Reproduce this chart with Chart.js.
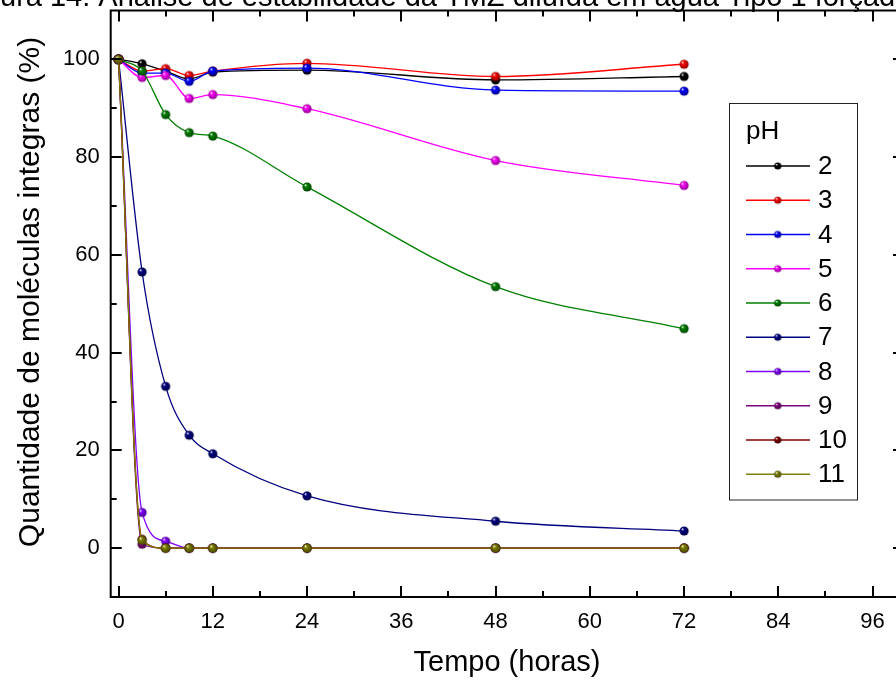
<!DOCTYPE html>
<html>
<head>
<meta charset="utf-8">
<script src="https://cdn.jsdelivr.net/npm/chart.js@4.4.1/dist/chart.umd.min.js"></script>
<style>
  html, body { margin: 0; padding: 0; background: #fff; overflow: hidden; }
  #wrap { width: 912px; height: 682px; }
</style>
</head>
<body>
<div id="wrap"><canvas id="grafico"></canvas></div>
<script>
// tempos de coleta (h) e % de moléculas íntegras por pH
var horas = [0, 3, 6, 9, 12, 24, 48, 72];
var ph2  = [100, 99.1, 97.6, 96.0, 97.4, 97.8, 95.8, 96.5];
var ph3  = [100, 97.6, 98.1, 96.7, 97.6, 99.2, 96.5, 99.0];
var ph4  = [100, 97.2, 97.2, 95.5, 97.6, 98.2, 93.7, 93.5];
var ph5  = [100, 96.3, 96.7, 92.0, 92.8, 89.9, 79.3, 74.2];
var ph6  = [100, 97.6, 88.7, 85.0, 84.3, 73.9, 53.5, 44.9];
var ph7  = [100, 56.5, 33.1, 23.1, 19.3, 10.7, 5.5, 3.5];
var ph8  = [100, 7.3, 1.4, 0, 0, 0, 0, 0];
var ph9  = [100, 0.8, 0, 0, 0, 0, 0, 0];
var ph10 = [100, 1.8, 0, 0, 0, 0, 0, 0];
var ph11 = [100, 1.6, 0, 0, 0, 0, 0, 0];

var rotulos = ['2', '3', '4', '5', '6', '7', '8', '9', '10', '11'];
var series = [ph2, ph3, ph4, ph5, ph6, ph7, ph8, ph9, ph10, ph11];
var cores = ['#000000', '#ff0000', '#0000ff', '#ff00ff', '#008000',
             '#000080', '#8000ff', '#800080', '#800000', '#808000'];

var xTicks = [0, 12, 24, 36, 48, 60, 72, 84, 96];
var xMenores = [6, 18, 30, 42, 54, 66, 78, 90];
var yTicks = [0, 20, 40, 60, 80, 100];
var yMenores = [10, 30, 50, 70, 90];

var fonte = '"Liberation Sans", Arial, sans-serif';

function escurece(hex, f) {
  var n = parseInt(hex.slice(1), 16);
  var r = Math.round(((n >> 16) & 255) * f);
  var g = Math.round(((n >> 8) & 255) * f);
  var b = Math.round((n & 255) * f);
  return 'rgb(' + r + ',' + g + ',' + b + ')';
}

// bolinha sombreada usada como marcador
function bola(cor, r) {
  var c = document.createElement('canvas');
  var d = Math.ceil(r * 2) + 2;
  c.width = d; c.height = d;
  var g = c.getContext('2d');
  var m = d / 2;
  var grad = g.createRadialGradient(m - r * 0.4, m - r * 0.45, r * 0.05, m, m, r);
  grad.addColorStop(0, '#ffffff');
  grad.addColorStop(0.3, cor);
  grad.addColorStop(1, escurece(cor, 0.55));
  g.fillStyle = grad;
  g.beginPath();
  g.arc(m, m, r, 0, Math.PI * 2);
  g.fill();
  return c;
}

var datasets = [];
for (var i = 0; i < series.length; i++) {
  var pts = [];
  for (var j = 0; j < horas.length; j++) {
    pts.push({ x: horas[j], y: series[i][j] });
  }
  datasets.push({
    label: rotulos[i],
    data: pts,
    borderColor: cores[i],
    backgroundColor: cores[i],
    borderWidth: 1.3,
    cubicInterpolationMode: 'monotone',
    pointStyle: bola(cores[i], 4.6),
    pointRadius: 4.6,
    order: series.length - i,
    marcadorLegenda: bola(cores[i], 3.6)
  });
}

var molduraOrigin = {
  id: 'molduraOrigin',
  afterDraw: function(chart) {
    var ctx = chart.ctx;
    var a = chart.chartArea;
    var sx = chart.scales.x, sy = chart.scales.y;
    ctx.save();
    ctx.strokeStyle = '#000';
    ctx.lineWidth = 2;
    ctx.strokeRect(a.left, a.top, a.right - a.left, a.bottom - a.top);

    function tickX(v, len) {
      var px = Math.round(sx.getPixelForValue(v));
      ctx.beginPath();
      ctx.moveTo(px, a.bottom); ctx.lineTo(px, a.bottom - len);
      ctx.moveTo(px, a.top); ctx.lineTo(px, a.top + len);
      ctx.stroke();
    }
    function tickY(v, len) {
      var py = Math.round(sy.getPixelForValue(v));
      ctx.beginPath();
      ctx.moveTo(a.left, py); ctx.lineTo(a.left + len, py);
      ctx.moveTo(a.right, py); ctx.lineTo(a.right - len, py);
      ctx.stroke();
    }
    xTicks.forEach(function(v) { tickX(v, 11); });
    xMenores.forEach(function(v) { tickX(v, 6); });
    yTicks.forEach(function(v) { tickY(v, 11); });
    yMenores.forEach(function(v) { tickY(v, 6); });

    // títulos
    ctx.fillStyle = '#000';
    ctx.font = '29px ' + fonte;
    ctx.textAlign = 'center';
    ctx.textBaseline = 'alphabetic';
    ctx.fillText('Tempo (horas)', 507, 671);

    ctx.save();
    ctx.translate(31, 292);
    ctx.rotate(-Math.PI / 2);
    ctx.font = '30px ' + fonte;
    ctx.textBaseline = 'middle';
    ctx.fillText('Quantidade de moléculas integras (%)', 0, 0);
    ctx.restore();

    var titulo = 'Figura 14: Análise de estabilidade da TMZ diluída em água Tipo 1 forçada';
    ctx.textAlign = 'left';
    ctx.textBaseline = 'alphabetic';
    ctx.fillText(titulo, -ctx.measureText('Fig').width, 6);

    // legenda
    ctx.lineWidth = 1;
    ctx.strokeStyle = '#222';
    ctx.strokeRect(729.5, 103.5, 128, 396.5);
    ctx.font = '26px ' + fonte;
    ctx.textBaseline = 'middle';
    ctx.fillText('pH', 746, 132);
    chart.data.datasets.forEach(function(ds, k) {
      var y = 166 + k * 34.25;
      ctx.strokeStyle = ds.borderColor;
      ctx.lineWidth = 1.3;
      ctx.beginPath();
      ctx.moveTo(746, y); ctx.lineTo(810, y);
      ctx.stroke();
      var img = ds.marcadorLegenda;
      ctx.drawImage(img, 777.7 - img.width / 2, y - img.height / 2);
      ctx.fillStyle = '#000';
      ctx.fillText(ds.label, 818, y + 1);
    });
    ctx.restore();
  }
};

new Chart(document.getElementById('grafico'), {
  type: 'line',
  data: { datasets: datasets },
  options: {
    responsive: true,
    maintainAspectRatio: false,
    animation: false,
    layout: { padding: { top: 10.5, right: 8, left: 0, bottom: 0 } },
    plugins: {
      legend: { display: false },
      tooltip: { enabled: false }
    },
    scales: {
      x: {
        type: 'linear',
        min: -1,
        max: 100,
        grid: { display: false, drawTicks: false },
        border: { display: false },
        afterBuildTicks: function(scale) {
          scale.ticks = xTicks.map(function(v) { return { value: v }; });
        },
        afterFit: function(scale) {
          scale.height = 85;
          scale.paddingLeft = 0;
          scale.paddingRight = 0;
        },
        ticks: {
          color: '#000',
          padding: 12,
          maxRotation: 0,
          font: { family: fonte, size: 22 }
        }
      },
      y: {
        type: 'linear',
        min: -10,
        max: 110,
        grid: { display: false, drawTicks: false },
        border: { display: false },
        afterBuildTicks: function(scale) {
          scale.ticks = yTicks.map(function(v) { return { value: v }; });
        },
        afterFit: function(scale) {
          scale.width = 110.7;
          scale.paddingTop = 0;
          scale.paddingBottom = 0;
        },
        ticks: {
          color: '#000',
          padding: 11,
          font: { family: fonte, size: 22 }
        }
      }
    }
  },
  plugins: [molduraOrigin]
});
</script>
</body>
</html>
